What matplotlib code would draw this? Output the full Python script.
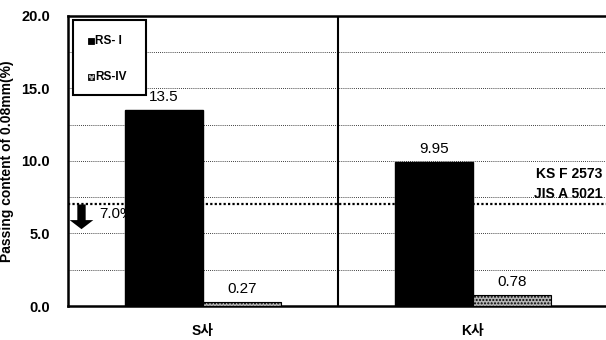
import numpy as np
import matplotlib
matplotlib.use('Agg')
import matplotlib.pyplot as plt
from matplotlib.patches import Rectangle

plt.rcParams['font.family'] = ['Liberation Sans', 'Noto Sans CJK KR', 'DejaVu Sans']

# passing content of 0.08mm, per maker
makers = ['S사', 'K사']
rs1 = [13.5, 9.95]
rs4 = [0.27, 0.78]
series = ['RS- I', 'RS-IV']
limit = 7.0
yticks = [0.0, 5.0, 10.0, 15.0, 20.0]

c1, c4 = 'black', '#b4b4b4'

fig = plt.figure(figsize=(6.06, 3.40), dpi=100)
ax = fig.add_axes([0.1122, 0.1, 0.891, 0.853])

x = np.arange(len(makers))
w = 0.289
ax.set_xlim(-0.5, 1.5)
ax.set_ylim(0, 20)

# dotted grid every 2.5
for g in np.arange(2.5, 20, 2.5):
    ax.axhline(g, color='black', lw=0.6, ls=(0, (1, 1.5)), zorder=1)

# limit line and arrow
ax.axhline(limit, color='black', lw=1.6, ls=(0, (1, 1)), zorder=2)
ax.annotate('', xy=(-0.45, 5.3), xytext=(-0.45, limit),
            arrowprops=dict(arrowstyle='simple,head_width=1.7,head_length=0.65,tail_width=0.6',
                            color='black', lw=0, shrinkA=0, shrinkB=0), zorder=3)
ax.text(-0.385, 6.35, '7.0%', fontsize=11, ha='left', va='center', zorder=2)

ax.bar(x - w / 2, rs1, w, color=c1, edgecolor='black', zorder=4)
ax.bar(x + w / 2, rs4, w, color=c4, edgecolor='black', lw=0.8,
       hatch='.....', zorder=4)

for xi, v in zip(x - w / 2, rs1):
    ax.text(xi, v + 0.4, f'{v:g}', ha='center', va='bottom', fontsize=11)
for xi, v in zip(x + w / 2, rs4):
    ax.text(xi, v + 0.4, f'{v:g}', ha='center', va='bottom', fontsize=11)

ax.text(1.48, 9.1, 'KS F 2573', ha='right', va='center', fontsize=10, fontweight='bold')
ax.text(1.48, 7.7, 'JIS A 5021', ha='right', va='center', fontsize=10, fontweight='bold')

# divider between makers
ax.axvline(0.5, color='black', lw=1.5, zorder=2)

ax.set_xticks(x)
ax.set_xticklabels(makers, fontsize=10, fontweight='bold')
ax.tick_params(axis='x', length=0, pad=13)
ax.set_yticks(yticks)
ax.set_yticklabels([f'{t:.1f}' for t in yticks], fontsize=10.5, fontweight='bold')
ax.tick_params(axis='y', length=0, pad=13)
ax.set_ylabel('Passing content of 0.08mm(%)', fontsize=10, fontweight='bold', labelpad=5)

for s in ax.spines.values():
    s.set_linewidth(1.8)

# legend box drawn by hand
ax.add_patch(Rectangle((0.0093, 0.728), 0.135, 0.258, transform=ax.transAxes,
                       facecolor='white', edgecolor='black', lw=1.5, zorder=6))
for ly, name, col, htch in [(0.914, series[0], c1, None), (0.790, series[1], c4, '....')]:
    ax.add_patch(Rectangle((0.037, ly - 0.011), 0.011, 0.022, transform=ax.transAxes,
                           facecolor=col, edgecolor='black', lw=0.6, hatch=htch, zorder=7))
    ax.text(0.05, ly, name, transform=ax.transAxes, ha='left', va='center',
            fontsize=8.5, fontweight='bold', zorder=7)

fig.savefig('out.png', dpi=100)
